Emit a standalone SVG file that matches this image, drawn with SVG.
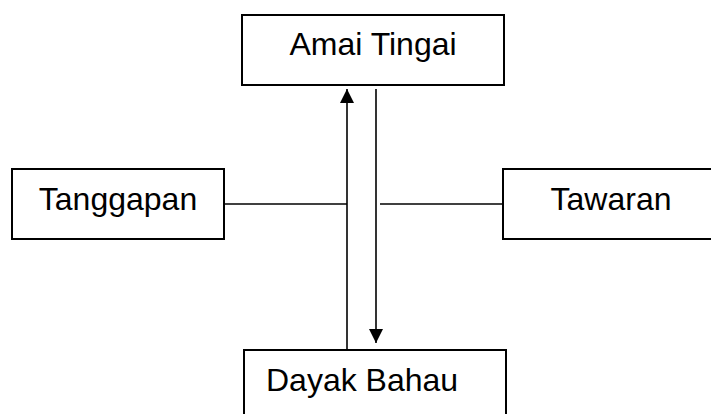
<svg xmlns="http://www.w3.org/2000/svg" width="711" height="414" viewBox="0 0 711 414">
<style>
.box{fill:#fff;stroke:#000;stroke-width:2}
.lbl{font-family:"Liberation Sans",Arial,sans-serif;font-size:32px;fill:#000}
.ln{stroke:#000;stroke-width:1.6;fill:none}
</style>
<defs>
<marker id="ah" viewBox="0 0 10 10" refX="10" refY="5" markerWidth="14" markerHeight="14" markerUnits="userSpaceOnUse" orient="auto">
<path d="M0,0 L10,5 L0,10 z" fill="#000"/>
</marker>
</defs>
<rect width="711" height="414" fill="#fff"/>
<g id="amai-tingai">
<rect class="box" x="242" y="15" width="262" height="70"/>
<text class="lbl" x="373" y="55" text-anchor="middle">Amai Tingai</text>
</g>
<g id="tanggapan">
<rect class="box" x="12" y="169" width="212" height="70"/>
<text class="lbl" x="118" y="210" text-anchor="middle">Tanggapan</text>
</g>
<g id="tawaran">
<rect class="box" x="503" y="169" width="220" height="70"/>
<text class="lbl" x="611" y="210" text-anchor="middle">Tawaran</text>
</g>
<g id="dayak-bahau">
<rect class="box" x="244" y="350" width="262" height="80"/>
<text class="lbl" x="266" y="391">Dayak Bahau</text>
</g>
<g id="connectors">
<line class="ln" x1="347" y1="351" x2="347" y2="89" marker-end="url(#ah)"/>
<line class="ln" x1="376" y1="89" x2="376" y2="343" marker-end="url(#ah)"/>
<line class="ln" x1="224" y1="204" x2="347" y2="204"/>
<line class="ln" x1="380" y1="204" x2="503" y2="204"/>
</g>
</svg>
